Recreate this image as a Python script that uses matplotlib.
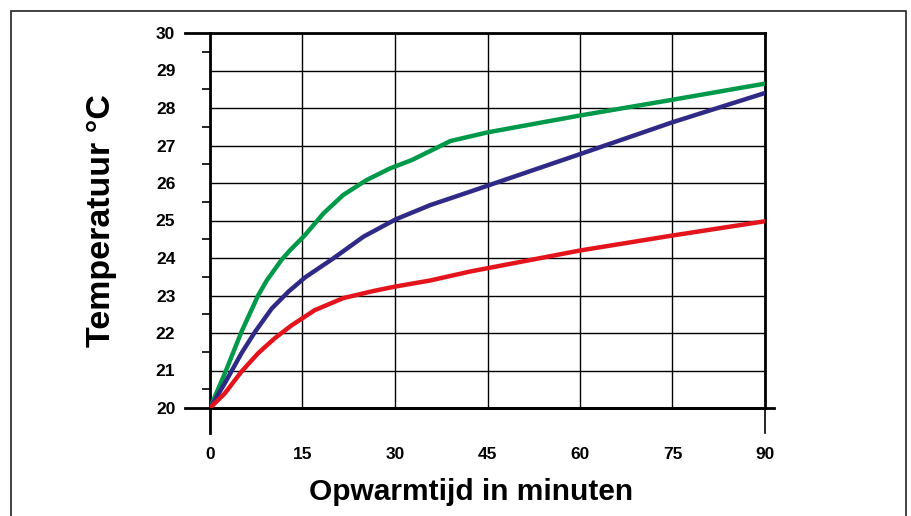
import numpy as np
import matplotlib.pyplot as plt
from matplotlib.patches import Rectangle
from matplotlib.ticker import MultipleLocator

# minutes and temperatures (deg C)
t_green = [0, 2.4, 5.1, 7.8, 9.2, 11.6, 13, 15.4, 18.4, 21.6, 25.4, 29.2, 32.7, 39, 45, 60, 75, 90]
temp_green = [20, 20.92, 22.03, 23.0, 23.4, 23.95, 24.21, 24.61, 25.19, 25.68, 26.08, 26.39,
              26.61, 27.12, 27.35, 27.8, 28.22, 28.65]

t_blue = [0, 2.4, 5.1, 7.3, 10, 12.7, 15.4, 20, 24.9, 30.1, 35.7, 42.2, 60, 75, 90]
temp_blue = [20, 20.66, 21.46, 22.03, 22.65, 23.1, 23.48, 23.99, 24.57, 25.03, 25.41, 25.77,
             26.77, 27.62, 28.4]

t_red = [0, 2.4, 5.1, 7.8, 10.5, 13.2, 17, 21.6, 26.5, 30.1, 35.7, 42.2, 60, 75, 90]
temp_red = [20, 20.39, 20.97, 21.46, 21.86, 22.2, 22.61, 22.93, 23.12, 23.24, 23.4, 23.64,
            24.2, 24.6, 24.98]

x_ticks = [0, 15, 30, 45, 60, 75, 90]
y_ticks = list(range(20, 31))

plt.rcParams['font.family'] = ['Liberation Sans', 'DejaVu Sans']
plt.rcParams['font.weight'] = 'bold'

fig = plt.figure(figsize=(9.12, 5.16), dpi=100)
ax = fig.add_axes([210 / 912, 1 - 408 / 516, 555 / 912, 375 / 516])

# frame around the whole picture
fig.patches.append(Rectangle((11 / 912, -0.1), 895 / 912, 1.1 - 11 / 516,
                             transform=fig.transFigure, fill=False,
                             edgecolor='#222222', linewidth=1.2))

for tt, vals, col in [(t_green, temp_green, '#00994a'),
                      (t_blue, temp_blue, '#2f2a86'),
                      (t_red, temp_red, '#e3141c')]:
    ax.plot(tt, vals, color=col, linewidth=3.2, solid_joinstyle='round',
            solid_capstyle='round', zorder=3)

ax.set_xlim(0, 90)
ax.set_ylim(20, 30)
ax.set_xticks(x_ticks)
ax.set_yticks(y_ticks)
ax.yaxis.set_minor_locator(MultipleLocator(0.5))
ax.grid(True, which='major', color='black', linewidth=1.0)
ax.tick_params(axis='both', which='major', length=0, labelsize=12.5)
ax.tick_params(axis='y', which='major', pad=25)
ax.tick_params(axis='x', which='major', pad=28)
ax.tick_params(axis='y', which='minor', length=6, width=1.2, direction='out')
for lab in ax.get_xticklabels() + ax.get_yticklabels():
    lab.set_fontweight('bold')

for s in ax.spines.values():
    s.set_linewidth(2)

# extended axis lines beyond the plot area
ax.plot([-4, 0], [30, 30], color='black', linewidth=2, clip_on=False)
ax.plot([-4, 91.5], [20, 20], color='black', linewidth=2, clip_on=False)
ax.plot([0, 0], [20, 19.33], color='black', linewidth=2, clip_on=False)
ax.plot([90, 90], [20, 19.33], color='black', linewidth=1.2, clip_on=False)

ax.set_xlabel('Opwarmtijd in minuten', fontsize=21.5, fontweight='bold', va='center')
ax.xaxis.set_label_coords(0.47, -0.224)
ax.set_ylabel('Temperatuur °C', fontsize=24.5, fontweight='bold', va='center')
ax.yaxis.set_label_coords(-0.196, 0.5)

fig.savefig('out.png', dpi=100)
